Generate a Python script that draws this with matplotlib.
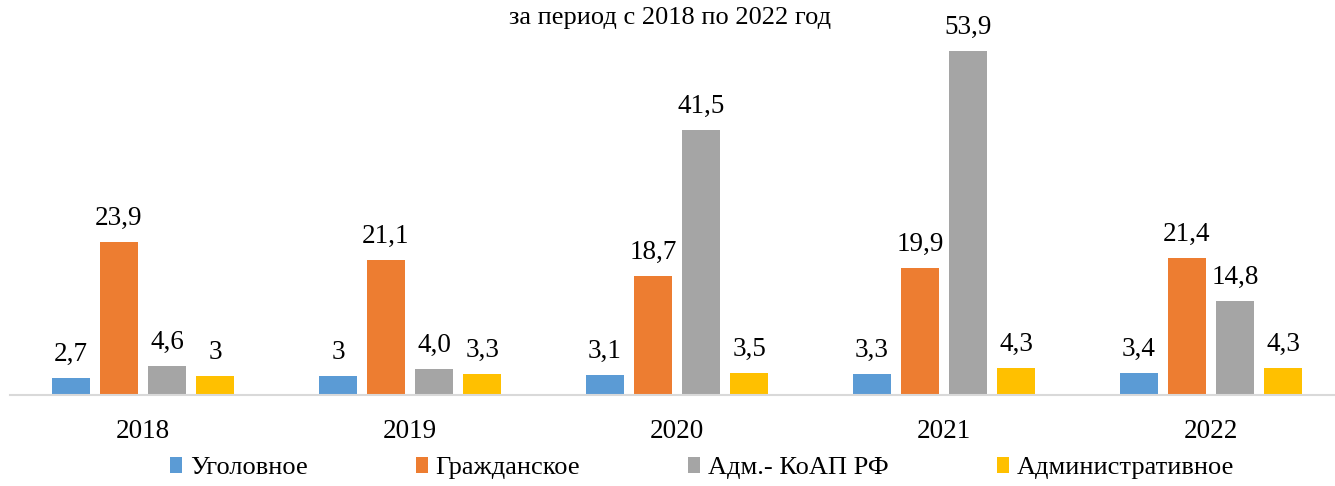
import numpy as np
import matplotlib
matplotlib.use("Agg")
import matplotlib.pyplot as plt

plt.rcParams["font.family"] = ["Liberation Serif", "DejaVu Serif"]

years = ["2018", "2019", "2020", "2021", "2022"]
series = ["Уголовное", "Гражданское", "Адм.- КоАП РФ", "Административное"]
colors = ["#5B9BD5", "#ED7D31", "#A5A5A5", "#FFC000"]

criminal = [2.7, 3.0, 3.1, 3.3, 3.4]
civil = [23.9, 21.1, 18.7, 19.9, 21.4]
koap = [4.6, 4.0, 41.5, 53.9, 14.8]
admin = [3.0, 3.3, 3.5, 4.3, 4.3]

criminal_lbl = ["2,7", "3", "3,1", "3,3", "3,4"]
civil_lbl = ["23,9", "21,1", "18,7", "19,9", "21,4"]
koap_lbl = ["4,6", "4,0", "41,5", "53,9", "14,8"]
admin_lbl = ["3", "3,3", "3,5", "4,3", "4,3"]

values = [criminal, civil, koap, admin]
labels = [criminal_lbl, civil_lbl, koap_lbl, admin_lbl]

fig = plt.figure(figsize=(13.35, 4.86), dpi=100)
ax = fig.add_axes([9.5 / 1335, 91 / 486, 1 - 9.5 / 1335, 395 / 486])

x = np.arange(len(years))
offsets = [-0.27, -0.09, 0.09, 0.27]
width = 0.142
handles = []
for vals, lbls, col, off, name in zip(values, labels, colors, offsets, series):
    bars = ax.bar(x + off, vals, width=width, color=col, label=name, zorder=2)
    handles.append(bars)
    for b, t in zip(bars, lbls):
        ax.annotate(t, (b.get_x() + b.get_width() / 2, b.get_height()),
                    xytext=(0, 8), textcoords="offset points",
                    ha="center", va="bottom", fontsize=19.5, color="#000000")

ax.set_xlim(-0.5, 4.5 - 9.5 / 267)
ax.set_ylim(0, 61.9)
ax.set_yticks([])
for s in ["top", "right", "left"]:
    ax.spines[s].set_visible(False)
ax.spines["bottom"].set_color("#D9D9D9")
ax.spines["bottom"].set_linewidth(1.5)
ax.set_xticks(x)
ax.set_xticklabels(years, fontsize=19.5)
ax.tick_params(axis="x", length=0, pad=17)

fig.text(0.502, 0.963, "за период с 2018 по 2022 год", ha="center",
         va="center", fontsize=19)

fig.legend(handles, series, loc="center", bbox_to_anchor=(0.526, 0.037),
           ncol=4, frameon=False, fontsize=19, handlelength=0.45,
           handleheight=0.55, handletextpad=0.3, columnspacing=4.1)

fig.savefig("out.png", dpi=100)
